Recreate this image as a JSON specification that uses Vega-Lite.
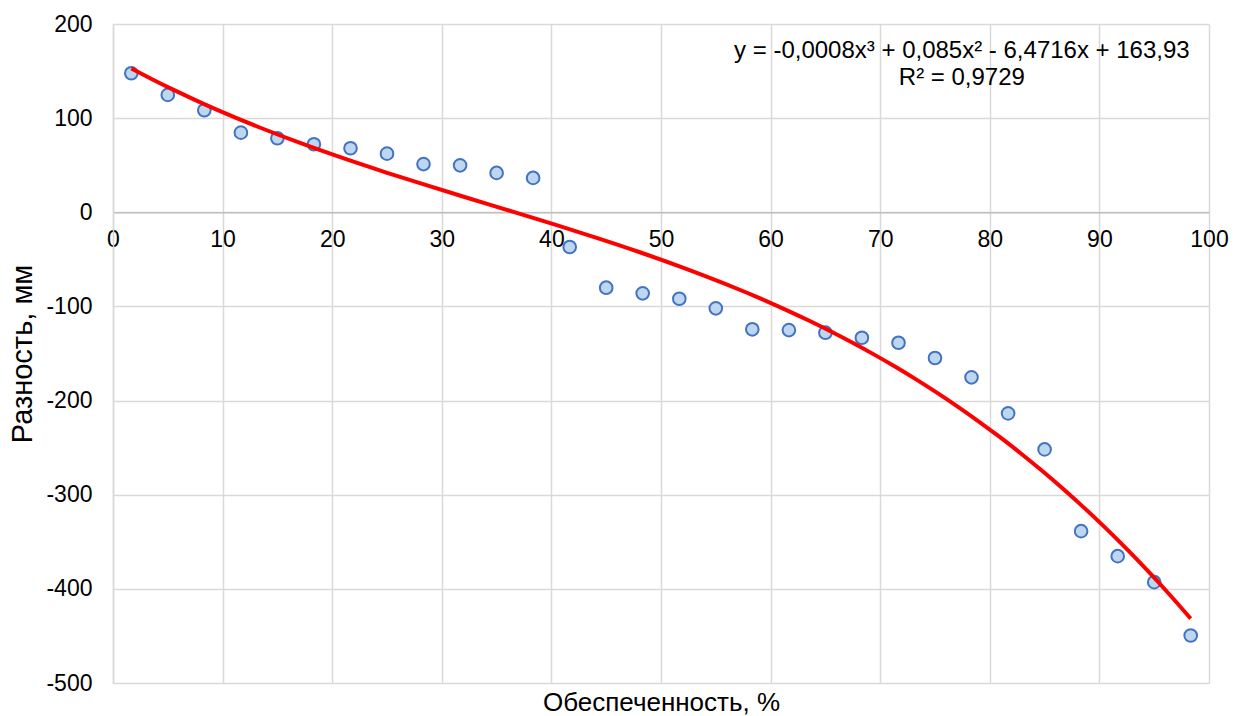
{
  "$schema": "https://vega.github.io/schema/vega-lite/v6.json",
  "width": 1096,
  "height": 659,
  "autosize": {"type": "none"},
  "padding": {"left": 113, "top": 24, "right": 36, "bottom": 33},
  "background": "white",
  "config": {
    "font": "Liberation Sans",
    "view": {"stroke": null},
    "axis": {
      "labelFont": "Liberation Sans",
      "titleFont": "Liberation Sans",
      "labelFontSize": 23,
      "titleFontSize": 26,
      "labelColor": "#000000",
      "titleColor": "#000000",
      "titleFontWeight": "normal",
      "gridColor": "#D9D9D9",
      "gridWidth": 1.5,
      "ticks": false,
      "tickSize": 0
    }
  },
  "datasets": {
    "points": [
      {"p": 1.67, "d": 147.7},
      {"p": 5.0, "d": 124.7},
      {"p": 8.33, "d": 108.4},
      {"p": 11.67, "d": 84.6},
      {"p": 15.0, "d": 78.6},
      {"p": 18.33, "d": 72.3},
      {"p": 21.67, "d": 68.0},
      {"p": 25.0, "d": 62.3},
      {"p": 28.33, "d": 51.2},
      {"p": 31.67, "d": 49.9},
      {"p": 35.0, "d": 41.8},
      {"p": 38.33, "d": 36.5},
      {"p": 41.67, "d": -36.9},
      {"p": 45.0, "d": -80.1},
      {"p": 48.33, "d": -86.1},
      {"p": 51.67, "d": -91.8},
      {"p": 55.0, "d": -102.0},
      {"p": 58.33, "d": -124.3},
      {"p": 61.67, "d": -125.1},
      {"p": 65.0, "d": -127.9},
      {"p": 68.33, "d": -133.3},
      {"p": 71.67, "d": -138.6},
      {"p": 75.0, "d": -154.8},
      {"p": 78.33, "d": -175.3},
      {"p": 81.67, "d": -213.6},
      {"p": 85.0, "d": -251.9},
      {"p": 88.33, "d": -338.7},
      {"p": 91.67, "d": -365.3},
      {"p": 95.0, "d": -392.9},
      {"p": 98.33, "d": -449.5}
    ],
    "notes": [
      {"label": "y = -0,0008x³ + 0,085x² - 6,4716x + 163,93", "tx": 77.45, "ty": 171.4},
      {"label": "R² = 0,9729", "tx": 77.45, "ty": 142.7}
    ]
  },
  "layer": [
    {
      "data": {"name": "points"},
      "mark": {"type": "point", "shape": "circle", "filled": false, "fill": "#BDD7EE", "fillOpacity": 1, "stroke": "#4472C4", "strokeWidth": 2, "opacity": 1, "size": 160},
      "encoding": {
        "x": {
          "field": "p",
          "type": "quantitative",
          "scale": {"domain": [0, 100], "nice": false, "zero": false},
          "axis": {
            "values": [0, 10, 20, 30, 40, 50, 60, 70, 80, 90, 100],
            "offset": -470.7,
            "domainColor": "#BFBFBF",
            "domainWidth": 1.5,
            "labelPadding": 16,
            "labelFlush": false,
            "title": "Обеспеченность, %",
            "titleY": 490,
            "titleBaseline": "middle"
          }
        },
        "y": {
          "field": "d",
          "type": "quantitative",
          "scale": {"domain": [-500, 200], "nice": false, "zero": false},
          "axis": {
            "values": [-500, -400, -300, -200, -100, 0, 100, 200],
            "labelExpr": "'' + datum.value",
            "labelPadding": 21,
            "domainColor": "#D9D9D9",
            "domainWidth": 1.5,
            "title": "Разность, мм",
            "titleFontSize": 29,
            "titlePadding": 8
          }
        }
      }
    },
    {
      "data": {"name": "points"},
      "transform": [
        {"regression": "d", "on": "p", "method": "poly", "order": 3}
      ],
      "mark": {"type": "line", "color": "#FF0000", "strokeWidth": 4, "interpolate": "monotone"},
      "encoding": {
        "x": {"field": "p", "type": "quantitative"},
        "y": {"field": "d", "type": "quantitative"}
      }
    },
    {
      "data": {"name": "notes"},
      "mark": {"type": "text", "font": "Liberation Sans", "fontSize": 24, "align": "center", "baseline": "middle", "color": "#000000"},
      "encoding": {
        "x": {"field": "tx", "type": "quantitative"},
        "y": {"field": "ty", "type": "quantitative"},
        "text": {"field": "label"}
      }
    }
  ]
}
